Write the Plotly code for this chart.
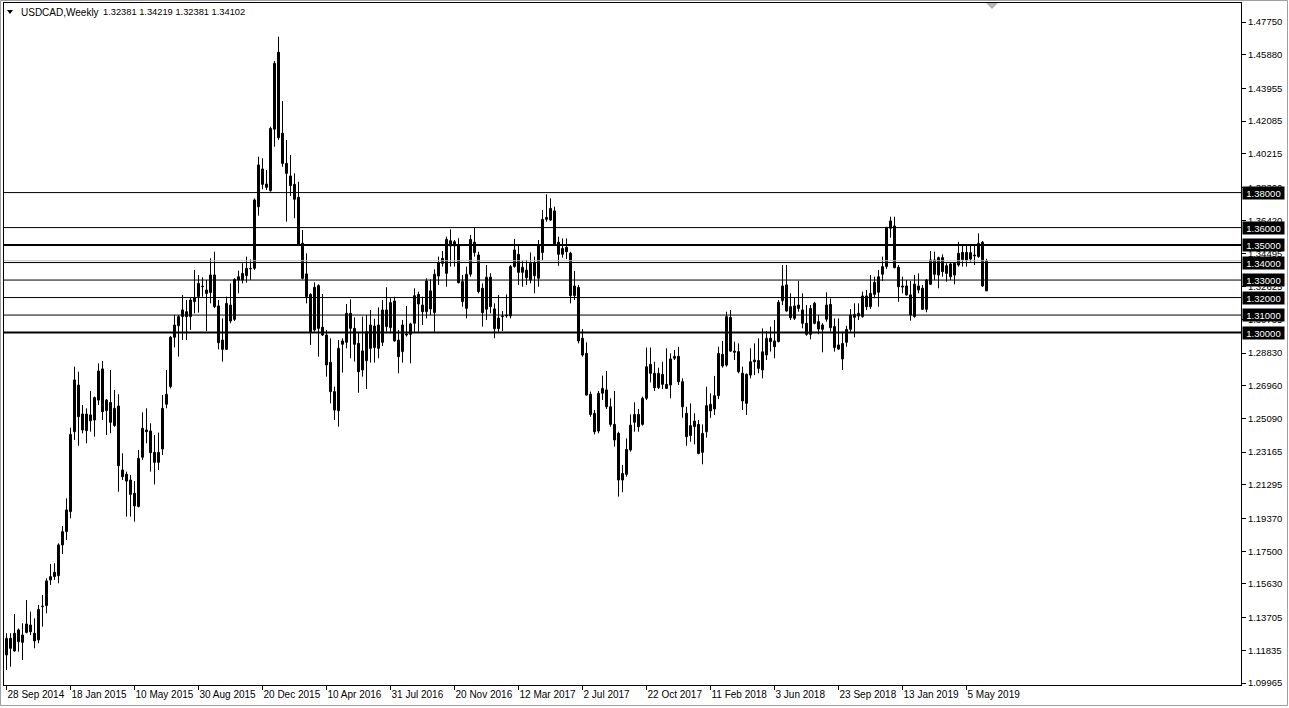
import plotly.graph_objects as go

# ---------------- data (USDCAD weekly) ----------------
opens = [1.1157,1.1252,1.1180,1.1300,1.1229,1.1285,1.1328,1.1281,1.1243,1.1433,
1.1439,1.1586,1.1605,1.1610,1.1786,1.1862,1.1976,1.2433,1.2700,1.2534,
1.2439,1.2529,1.2500,1.2614,1.2792,1.2554,1.2600,1.2468,1.2580,1.2214,
1.2190,1.2157,1.2081,1.2005,1.2287,1.2443,1.2437,1.2315,1.2258,1.2334,
1.2590,1.2691,1.2973,1.3039,1.3091,1.3119,1.3091,1.3177,1.3205,1.3262,
1.3243,1.3228,1.3329,1.3152,1.2957,1.2904,1.3157,1.3075,1.3300,1.3300,
1.3325,1.3364,1.3367,1.3719,1.3935,1.3849,1.3811,1.4162,1.4602,1.4139,
1.3967,1.3895,1.3847,1.3773,1.3510,1.3335,1.3218,1.3015,1.3268,1.3030,
1.2986,1.2830,1.2662,1.2553,1.2952,1.2944,1.3110,1.3024,1.2938,1.2786,
1.2839,1.3043,1.2914,1.3043,1.2944,1.3129,1.3028,1.3180,1.2957,1.2891,
1.2992,1.2990,1.3053,1.3218,1.3157,1.3119,1.3238,1.3114,1.3323,1.3424,
1.3338,1.3495,1.3519,1.3500,1.3291,1.3138,1.3333,1.3516,1.3443,1.3253,
1.3133,1.3316,1.3135,1.3022,1.3091,1.3100,1.3095,1.3377,1.3447,1.3344,
1.3357,1.3300,1.3399,1.3310,1.3457,1.3647,1.3643,1.3695,1.3516,1.3447,
1.3487,1.3453,1.3211,1.3258,1.2967,1.2881,1.2647,1.2538,1.2437,1.2653,
1.2672,1.2576,1.2475,1.2424,1.2157,1.2189,1.2329,1.2487,1.2532,1.2475,
1.2624,1.2818,1.2767,1.2685,1.2761,1.2704,1.2700,1.2853,1.2864,1.2719,
1.2538,1.2411,1.2462,1.2475,1.2315,1.2433,1.2552,1.2563,1.2639,1.2875,
1.2814,1.3087,1.2894,1.2891,1.2767,1.2595,1.2757,1.2843,1.2840,1.2786,
1.2872,1.2967,1.2952,1.2948,1.3182,1.3272,1.3148,1.3081,1.3157,1.3129,
1.3053,1.2990,1.3167,1.3062,1.3018,1.3076,1.3161,1.3034,1.2929,1.2849,
1.2944,1.3018,1.3087,1.3094,1.3091,1.3209,1.3148,1.3218,1.3230,1.3333,
1.3377,1.3596,1.3609,1.3373,1.3266,1.3266,1.3215,1.3091,1.3266,1.3253,
1.3133,1.3276,1.3415,1.3329,1.3428,1.3338,1.3392,1.3329,1.3386,1.3458,
1.3458,1.3420,1.3443,1.3434,1.3516,1.32381]

highs = [1.1281,1.1281,1.1391,1.1309,1.1338,1.1471,1.1405,1.1366,1.1443,1.1500,
1.1595,1.1677,1.1681,1.1795,1.1894,1.2052,1.2456,1.2805,1.2776,1.2586,
1.2567,1.2666,1.2634,1.2824,1.2837,1.2620,1.2786,1.2672,1.2647,1.2310,
1.2205,1.2186,1.2151,1.2329,1.2544,1.2567,1.2481,1.2414,1.2428,1.2643,
1.2786,1.2980,1.3100,1.3100,1.3215,1.3186,1.3199,1.3358,1.3329,1.3316,
1.3300,1.3424,1.3462,1.3186,1.3081,1.3205,1.3281,1.3310,1.3354,1.3396,
1.3434,1.3418,1.3767,1.4005,1.3996,1.3929,1.4177,1.4552,1.4691,1.4323,
1.4101,1.4015,1.3910,1.3862,1.3586,1.3453,1.3224,1.3287,1.3276,1.3220,
1.3015,1.2967,1.2691,1.2957,1.2967,1.3163,1.3190,1.3087,1.3000,1.3091,
1.3100,1.3129,1.3079,1.3144,1.3186,1.3259,1.3196,1.3205,1.3015,1.3072,
1.3152,1.3056,1.3253,1.3234,1.3205,1.3310,1.3304,1.3361,1.3434,1.3466,
1.3548,1.3590,1.3529,1.3539,1.3329,1.3377,1.3558,1.3599,1.3462,1.3281,
1.3386,1.3339,1.3167,1.3215,1.3123,1.3218,1.3386,1.3535,1.3495,1.3409,
1.3415,1.3458,1.3434,1.3529,1.3700,1.3790,1.3767,1.3719,1.3548,1.3538,
1.3538,1.3462,1.3352,1.3272,1.3020,1.2944,1.2662,1.2557,1.2666,1.2754,
1.2780,1.2624,1.2666,1.2433,1.2243,1.2395,1.2532,1.2601,1.2563,1.2634,
1.2914,1.2914,1.2833,1.2799,1.2833,1.2910,1.2881,1.2900,1.2919,1.2738,
1.2576,1.2595,1.2538,1.2500,1.2475,1.2690,1.2653,1.2752,1.2919,1.2952,
1.3119,1.3129,1.2948,1.2938,1.2805,1.2767,1.2910,1.2938,1.2967,1.3024,
1.3009,1.3034,1.3072,1.3186,1.3386,1.3386,1.3224,1.3199,1.3295,1.3224,
1.3157,1.3157,1.3176,1.3100,1.3053,1.3230,1.3195,1.3081,1.3081,1.3005,
1.3039,1.3134,1.3167,1.3167,1.3234,1.3243,1.3329,1.3319,1.3357,1.3434,
1.3605,1.3662,1.3662,1.3386,1.3319,1.3300,1.3295,1.3329,1.3338,1.3272,
1.3306,1.3466,1.3462,1.3434,1.3447,1.3396,1.3401,1.3401,1.3519,1.3500,
1.3495,1.3497,1.3504,1.3567,1.3523,1.34219]

lows = [1.1071,1.1090,1.1176,1.1176,1.1128,1.1281,1.1271,1.1195,1.1224,1.1319,
1.1395,1.1557,1.1586,1.1567,1.1734,1.1814,1.1938,1.2386,1.2353,1.2424,
1.2367,1.2433,1.2405,1.2586,1.2500,1.2414,1.2424,1.2462,1.2090,1.2157,
1.1948,1.1948,1.1919,1.2001,1.2272,1.2367,1.2205,1.2132,1.2214,1.2300,
1.2567,1.2681,1.2915,1.2862,1.2957,1.2957,1.3015,1.3110,1.3114,1.3205,
1.3009,1.3167,1.3140,1.2904,1.2834,1.2900,1.3053,1.3066,1.3224,1.3281,
1.3285,1.3300,1.3358,1.3668,1.3819,1.3815,1.3805,1.4062,1.4101,1.3948,
1.3634,1.3781,1.3653,1.3500,1.3304,1.3167,1.2929,1.3005,1.2862,1.2980,
1.2748,1.2595,1.2500,1.2462,1.2771,1.2910,1.2853,1.2834,1.2656,1.2748,
1.2677,1.2828,1.2828,1.2853,1.2923,1.3005,1.2996,1.2948,1.2767,1.2828,
1.2977,1.2824,1.3005,1.3005,1.3043,1.3081,1.3100,1.3005,1.3272,1.3377,
1.3262,1.3377,1.3377,1.3281,1.3148,1.3081,1.3319,1.3434,1.3224,1.3034,
1.3072,1.3110,1.2967,1.3005,1.3009,1.3085,1.3081,1.3371,1.3272,1.3262,
1.3272,1.3281,1.3224,1.3262,1.3415,1.3634,1.3638,1.3500,1.3382,1.3428,
1.3420,1.3167,1.3186,1.2938,1.2862,1.2639,1.2519,1.2418,1.2424,1.2614,
1.2563,1.2462,1.2348,1.2062,1.2087,1.2176,1.2319,1.2433,1.2433,1.2468,
1.2614,1.2715,1.2666,1.2677,1.2677,1.2677,1.2624,1.2843,1.2700,1.2513,
1.2353,1.2376,1.2361,1.2304,1.2247,1.2399,1.2513,1.2529,1.2620,1.2799,
1.2805,1.2891,1.2843,1.2767,1.2557,1.2529,1.2738,1.2757,1.2767,1.2738,
1.2843,1.2891,1.2853,1.2944,1.3157,1.3119,1.3072,1.3072,1.3119,1.3024,
1.2982,1.2961,1.3047,1.2990,1.2887,1.3062,1.3005,1.2891,1.2900,1.2786,
1.2919,1.3005,1.2973,1.3072,1.3085,1.3129,1.3135,1.3196,1.3148,1.3295,
1.3363,1.3542,1.3367,1.3176,1.3224,1.3211,1.3068,1.3085,1.3224,1.3129,
1.3116,1.3272,1.3300,1.3253,1.3319,1.3291,1.3300,1.3276,1.3377,1.3377,
1.3377,1.3405,1.3386,1.3428,1.3262,1.32381]

closes = [1.1252,1.1195,1.1281,1.1233,1.1271,1.1334,1.1290,1.1237,1.1418,1.1436,
1.1580,1.1605,1.1630,1.1786,1.1862,1.1986,1.2418,1.2729,1.2519,1.2443,
1.2534,1.2496,1.2628,1.2780,1.2548,1.2614,1.2487,1.2567,1.2239,1.2176,
1.2151,1.2075,1.2009,1.2281,1.2453,1.2433,1.2313,1.2258,1.2315,1.2567,
1.2647,1.2973,1.3043,1.3091,1.3129,1.3091,1.3186,1.3201,1.3281,1.3265,
1.3224,1.3329,1.3148,1.2942,1.2904,1.3167,1.3066,1.3304,1.3319,1.3338,
1.3367,1.3367,1.3758,1.3958,1.3847,1.3830,1.4167,1.4539,1.4114,1.3967,
1.3910,1.3840,1.3762,1.3504,1.3310,1.3205,1.3005,1.3259,1.3024,1.2986,
1.2815,1.2662,1.2557,1.2910,1.2933,1.3110,1.3024,1.2933,1.2776,1.2895,
1.3005,1.2910,1.3037,1.2910,1.3129,1.3034,1.3171,1.2952,1.2862,1.3043,
1.2986,1.3049,1.3211,1.3163,1.3119,1.3295,1.3135,1.3333,1.3400,1.3396,
1.3533,1.3525,1.3495,1.3285,1.3177,1.3333,1.3533,1.3457,1.3234,1.3114,
1.3316,1.3148,1.3022,1.3083,1.3095,1.3095,1.3377,1.3472,1.3344,1.3373,
1.3314,1.3396,1.3325,1.3497,1.3647,1.3658,1.3710,1.3504,1.3447,1.3481,
1.3462,1.3211,1.3266,1.2952,1.2872,1.2643,1.2532,1.2433,1.2653,1.2681,
1.2576,1.2475,1.2386,1.2157,1.2195,1.2332,1.2471,1.2532,1.2462,1.2624,
1.2805,1.2767,1.2685,1.2767,1.2704,1.2681,1.2849,1.2864,1.2719,1.2576,
1.2405,1.2468,1.2494,1.2309,1.2424,1.2582,1.2590,1.2639,1.2881,1.2809,
1.3091,1.2894,1.2887,1.2776,1.2609,1.2761,1.2833,1.2833,1.2795,1.2890,
1.2967,1.2948,1.2919,1.3173,1.3266,1.3123,1.3085,1.3152,1.3138,1.3053,
1.2990,1.3138,1.3053,1.3020,1.3043,1.3157,1.3028,1.2914,1.2906,1.2938,
1.3018,1.3100,1.3104,1.3110,1.3209,1.3148,1.3224,1.3287,1.3319,1.3377,
1.3599,1.3638,1.3371,1.3262,1.3260,1.3215,1.3100,1.3277,1.3243,1.3133,
1.3300,1.3415,1.3333,1.3428,1.3348,1.3382,1.3319,1.3396,1.3453,1.3418,
1.3415,1.3457,1.3438,1.3510,1.3266,1.34102]

week_index = list(range(len(closes)))

date_tick_index = [0, 16, 32, 48, 64, 80, 96, 112, 128, 144, 160, 176, 192, 208, 224, 240]
date_tick_labels = ["28 Sep 2014", "18 Jan 2015", "10 May 2015", "30 Aug 2015", "20 Dec 2015",
                    "10 Apr 2016", "31 Jul 2016", "20 Nov 2016", "12 Mar 2017", "2 Jul 2017",
                    "22 Oct 2017", "11 Feb 2018", "3 Jun 2018", "23 Sep 2018", "13 Jan 2019",
                    "5 May 2019"]

price_ticks = [1.47750, 1.45880, 1.43955, 1.42085, 1.40215, 1.38300, 1.36420, 1.34495,
               1.32625, 1.30735, 1.28830, 1.26960, 1.25090, 1.23165, 1.21295, 1.19370,
               1.17500, 1.15630, 1.13705, 1.11835, 1.09965]

level_prices = [1.38, 1.36, 1.35, 1.34, 1.33, 1.32, 1.31, 1.30]
level_widths = [1, 1, 2, 1, 1, 1, 1, 2]
current_price = 1.34102

symbol_title = "USDCAD,Weekly"

# ---------------- layout geometry ----------------
W, H = 1289, 708
ML, MR, MT, MB = 4, 48, 3, 23
PW, PH = W - ML - MR, H - MT - MB
Y_RANGE = [1.09853, 1.48837]
X_RANGE = [-0.625, -0.625 + PW / 4.0]


def px2x(px):
    return (px - ML) / PW


def py2y(py):
    return (H - MB - py) / PH


FONT = "Liberation Sans, Arial, sans-serif"

# wicks
wx, wy = [], []
for i, lo, hi in zip(week_index, lows, highs):
    wx += [i, i, None]
    wy += [lo, hi, None]

up = [k for k in week_index if closes[k] >= opens[k]]
dn = [k for k in week_index if closes[k] < opens[k]]

fig = go.Figure()
fig.add_trace(go.Scatter(x=wx, y=wy, mode="lines", line=dict(color="black", width=1),
                         hoverinfo="skip", showlegend=False))
fig.add_trace(go.Bar(x=up, base=[opens[k] for k in up],
                     y=[max(closes[k] - opens[k], 0.00002) for k in up],
                     width=0.5, marker=dict(color="white", line=dict(color="black", width=1)),
                     hoverinfo="skip", showlegend=False))
fig.add_trace(go.Bar(x=dn, base=[closes[k] for k in dn],
                     y=[opens[k] - closes[k] for k in dn],
                     width=0.5, marker=dict(color="black", line=dict(color="black", width=1)),
                     hoverinfo="skip", showlegend=False))

shapes = []
shapes.append(dict(type="line", xref="paper", yref="y", x0=0, x1=1,
                   y0=current_price, y1=current_price,
                   line=dict(color="#c0c0c0", width=1), layer="above"))
for p, w in zip(level_prices, level_widths):
    shapes.append(dict(type="line", xref="paper", yref="y", x0=0, x1=1, y0=p, y1=p,
                       line=dict(color="black", width=w), layer="above"))

shapes.append(dict(type="path", xref="paper", yref="paper",
                   path=f"M {px2x(7)} {py2y(10)} L {px2x(13)} {py2y(10)} L {px2x(10)} {py2y(14)} Z",
                   fillcolor="black", line=dict(width=0)))
shapes.append(dict(type="path", xref="paper", yref="paper",
                   path=f"M {px2x(986)} {py2y(3)} L {px2x(998)} {py2y(3)} L {px2x(992)} {py2y(9)} Z",
                   fillcolor="#b4b4b4", line=dict(width=0)))
shapes.append(dict(type="rect", xref="paper", yref="paper",
                   x0=px2x(0.5), x1=px2x(1287.5), y0=py2y(705.5), y1=py2y(0.5),
                   line=dict(color="#a0a0a0", width=1), fillcolor="rgba(0,0,0,0)"))

annotations = []
annotations.append(dict(xref="paper", yref="paper", x=px2x(19), y=py2y(12.5),
                        xanchor="left", yanchor="middle", showarrow=False,
                        text=symbol_title,
                        font=dict(family=FONT, size=10, color="black")))
annotations.append(dict(xref="paper", yref="paper", x=px2x(101), y=py2y(12.5),
                        xanchor="left", yanchor="middle", showarrow=False,
                        text="\u00a0".join(f"{v:.5f}" for v in
                                           (opens[-1], highs[-1], lows[-1], closes[-1])),
                        font=dict(family=FONT, size=9.3, color="black")))
for p in level_prices:
    annotations.append(dict(xref="paper", yref="y", x=px2x(1242), y=p,
                            xanchor="left", yanchor="middle", showarrow=False,
                            text=f"{p:.5f}", bgcolor="black", borderpad=1,
                            width=39, height=10,
                            font=dict(family=FONT, size=9.5, color="white")))

fig.update_layout(
    width=W, height=H,
    margin=dict(l=ML, r=MR, t=MT, b=MB, pad=0, autoexpand=False),
    paper_bgcolor="white", plot_bgcolor="white",
    shapes=shapes, annotations=annotations, showlegend=False,
    barmode="overlay", bargap=0,
    xaxis=dict(range=X_RANGE, showgrid=False, automargin=False,
               zeroline=False, showline=True, linecolor="black", linewidth=1, mirror=True,
               tickmode="array", tickvals=date_tick_index, ticktext=date_tick_labels,
               ticks="outside", ticklen=4, tickcolor="black", tickwidth=1, tickangle=0,
               ticklabelposition="outside right",
               tickfont=dict(family=FONT, size=10, color="black"), fixedrange=True),
    yaxis=dict(range=Y_RANGE, side="right", showgrid=False, zeroline=False, automargin=False,
               showline=True, linecolor="black", linewidth=1, mirror=True,
               tickmode="array", tickvals=price_ticks,
               ticktext=[f"{v:.5f}" for v in price_ticks],
               ticks="outside", ticklen=4, tickcolor="black", tickwidth=1,
               tickfont=dict(family=FONT, size=9.5, color="black"), fixedrange=True),
)

fig.write_html("out.html", config={"displayModeBar": False, "staticPlot": True})

with open("out.html", "r", encoding="utf-8") as fh:
    html = fh.read()
html = html.replace("<head>", "<head><style>html,body{margin:0;padding:0;overflow:hidden;}</style>", 1)
with open("out.html", "w", encoding="utf-8") as fh:
    fh.write(html)
